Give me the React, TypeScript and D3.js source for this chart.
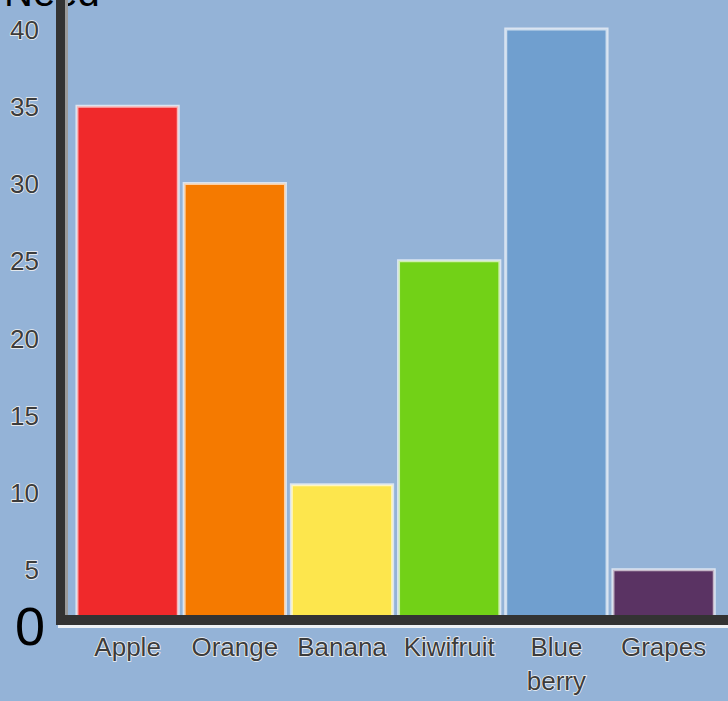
import React, { useEffect, useRef } from 'react';
import * as d3 from 'd3';

const categories = ['Apple', 'Orange', 'Banana', 'Kiwifruit', 'Blue berry', 'Grapes'];
const values = [35, 30, 10.5, 25, 40, 5];
const barColors = ['#f0292b', '#f57a00', '#fde64d', '#72d117', '#709fcf', '#5a3363'];
const tickValues = [5, 10, 15, 20, 25, 30, 35, 40];
const title = 'Need';

const width = 728;
const height = 701;

export default function App() {
  const svgRef = useRef<SVGSVGElement>(null);

  useEffect(() => {
    if (!svgRef.current) return;
    const svg = d3.select(svgRef.current);
    svg.selectAll('*').remove();

    const baseline = 615;
    const font = '"Liberation Sans", Arial, sans-serif';

    // background
    svg.append('rect').attr('width', width).attr('height', height).attr('fill', '#94b3d7');

    const x = d3
      .scaleBand<string>()
      .domain(categories)
      .range([74, 717.2])
      .paddingInner(0.055)
      .paddingOuter(0.0275);

    // 0 sits below the drawn baseline in the original
    const y = d3.scaleLinear().domain([0, 40]).range([647, 29]);

    // title, mostly cut off at the top
    svg
      .append('text')
      .attr('x', 4)
      .attr('y', 6)
      .style('font-family', font)
      .style('font-size', '40px')
      .style('fill', '#000')
      .text(title);

    // bars, clipped at the baseline
    svg
      .append('g')
      .selectAll('rect')
      .data(categories)
      .enter()
      .append('rect')
      .attr('x', d => x(d)!)
      .attr('y', (d, i) => y(values[i]))
      .attr('width', x.bandwidth())
      .attr('height', (d, i) => baseline + 2 - y(values[i]))
      .attr('fill', (d, i) => barColors[i])
      .attr('stroke', 'rgba(255,255,255,0.65)')
      .attr('stroke-width', 3);

    // y axis line
    svg.append('rect').attr('x', 56).attr('y', 0).attr('width', 9).attr('height', 625).attr('fill', '#333');
    svg.append('rect').attr('x', 65).attr('y', 0).attr('width', 3).attr('height', 615).attr('fill', '#9a9a9a');

    // x axis line
    svg.append('rect').attr('x', 56).attr('y', baseline).attr('width', width - 56).attr('height', 10).attr('fill', '#333');
    svg.append('rect').attr('x', 58).attr('y', baseline + 10).attr('width', width - 58).attr('height', 3).attr('fill', '#eef1f5');

    // y tick labels
    const yAxis = d3.axisLeft(y).tickValues(tickValues).tickSize(0).tickPadding(0);
    const yg = svg.append('g').attr('transform', 'translate(39,0)').call(yAxis);
    yg.select('.domain').remove();
    yg.selectAll('text')
      .attr('dy', 9)
      .style('font-family', font)
      .style('font-size', '26px')
      .style('fill', '#3c3c3c')
      .style('stroke', '#f2f2f2')
      .style('stroke-width', '1.5px')
      .style('paint-order', 'stroke');

    // big zero label
    svg
      .append('text')
      .attr('x', 30)
      .attr('y', 645)
      .attr('text-anchor', 'middle')
      .style('font-family', font)
      .style('font-size', '54px')
      .style('fill', '#000')
      .text('0');

    // x category labels
    const xAxis = d3.axisBottom(x).tickSize(0).tickPadding(0);
    const xg = svg.append('g').attr('transform', 'translate(0,638)').call(xAxis);
    xg.select('.domain').remove();
    xg.selectAll<SVGTextElement, string>('text')
      .style('font-family', font)
      .style('font-size', '26px')
      .style('fill', '#3c3c3c')
      .style('stroke', '#f2f2f2')
      .style('stroke-width', '1.5px')
      .style('paint-order', 'stroke')
      .each(function (d) {
        const t = d3.select(this);
        t.text(null);
        d.split(' ').forEach((line, i) => {
          t.append('tspan').attr('x', 0).attr('dy', i === 0 ? '0.71em' : '1.3em').text(line);
        });
      });
  }, []);

  return (
    <div style={{ position: 'fixed', left: 0, top: 0 }}>
      <svg ref={svgRef} width={width} height={height} style={{ display: 'block' }} />
    </div>
  );
}
